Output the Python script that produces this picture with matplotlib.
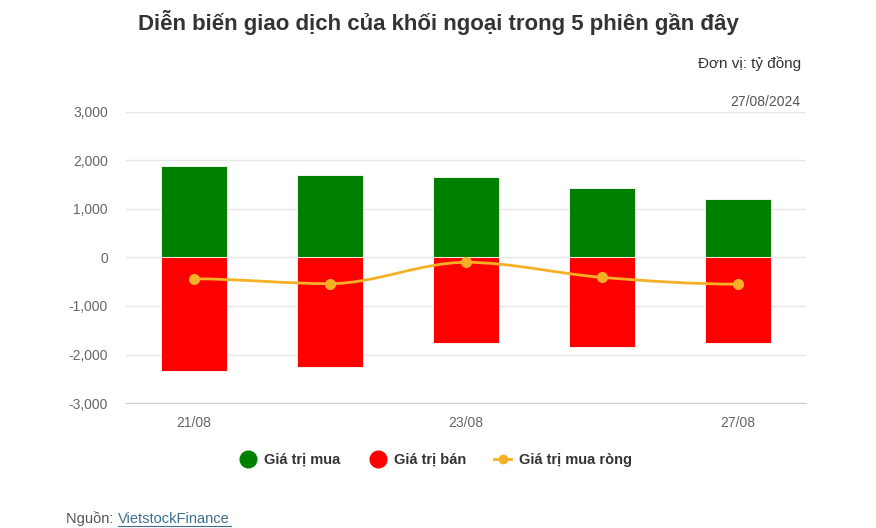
import matplotlib.pyplot as plt
import numpy as np
from matplotlib.path import Path
from matplotlib.patches import PathPatch
from matplotlib.lines import Line2D

plt.rcParams['font.family'] = ['Liberation Sans', 'DejaVu Sans']

# data (tỷ đồng)
dates = ['21/08', '22/08', '23/08', '26/08', '27/08']
buy = [1890, 1710, 1660, 1425, 1200]
sell = [-2330, -2255, -1765, -1840, -1770]
net = [-440, -540, -100, -410, -550]
yticks = [-3000, -2000, -1000, 0, 1000, 2000, 3000]
labels = ['Giá trị mua', 'Giá trị bán', 'Giá trị mua ròng']

green = '#008000'
red = '#ff0000'
gold = '#f6b026'

fig = plt.figure(figsize=(8.76, 5.28), dpi=100)
ax = fig.add_axes([0.1438, 0.2367, 0.7762, 0.5513])

x = np.arange(len(dates))
ax.bar(x, buy, width=0.48, color=green, edgecolor='white', linewidth=0.6, zorder=2)
ax.bar(x, sell, width=0.48, color=red, edgecolor='white', linewidth=0.6, zorder=2)

# smooth spline through net points (bezier segments)
verts = [(x[0], net[0])]
codes = [Path.MOVETO]
for i in range(len(x) - 1):
    x0, y0 = x[i], net[i]
    x1, y1 = x[i + 1], net[i + 1]
    s0 = 0
    if i > 0 and (y0 - net[i - 1]) * (y1 - y0) > 0:
        s0 = (y1 - net[i - 1]) / 2
    s1 = 0
    if i + 2 < len(x) and (y1 - y0) * (net[i + 2] - y1) > 0:
        s1 = (net[i + 2] - y0) / 2
    verts += [(x0 + 1 / 3, y0 + s0 / 3), (x1 - 1 / 3, y1 - s1 / 3), (x1, y1)]
    codes += [Path.CURVE4] * 3
ax.add_patch(PathPatch(Path(verts, codes), facecolor='none', edgecolor=gold, lw=2, zorder=3))
ax.plot(x, net, 'o', color=gold, ms=7, zorder=4)

ax.set_xlim(-0.5, 4.5)
ax.set_ylim(-3000, 3000)
ax.set_yticks(yticks)
ax.set_yticklabels(['{:,}'.format(v) for v in yticks])
ax.set_xticks(x[::2])
ax.set_xticklabels(dates[::2])
ax.tick_params(axis='both', length=0, colors='#666666', labelsize=10)
ax.tick_params(axis='x', pad=9)
ax.tick_params(axis='y', pad=13)
ax.grid(axis='y', color='#e6e6e6', lw=1, zorder=0)
for s in ['top', 'right', 'left']:
    ax.spines[s].set_visible(False)
ax.spines['bottom'].set_color('#cccccc')

fig.text(0.5, 0.958, 'Diễn biến giao dịch của khối ngoại trong 5 phiên gần đây',
         ha='center', va='center', fontsize=16, fontweight='bold', color='#333333')
fig.text(0.914, 0.879, 'Đơn vị: tỷ đồng', ha='right', va='center', fontsize=11, color='#333333')
fig.text(0.914, 0.807, '27/08/2024', ha='right', va='center', fontsize=10, color='#555555')

# legend: one entry per legend so the texts sit on one line
handles = [
    Line2D([], [], ls='none', marker='o', ms=12, color=green),
    Line2D([], [], ls='none', marker='o', ms=12, color=red),
    Line2D([], [], color=gold, lw=2, marker='o', ms=6),
]
for h, lab, lx in zip(handles, labels, [0.2728, 0.4212, 0.5639]):
    leg = fig.legend([h], [lab], loc='center left', bbox_to_anchor=(lx, 0.1288),
                     frameon=False, borderpad=0, borderaxespad=0,
                     handlelength=1.2, handletextpad=0.55,
                     prop={'weight': 'bold', 'size': 10.5})
    leg.get_texts()[0].set_color('#333333')

fig.text(0.075, 0.017, 'Nguồn: ', ha='left', va='center', fontsize=10.5, color='#555555')
fig.text(0.135, 0.017, 'VietstockFinance', ha='left', va='center', fontsize=10.5,
         color='#3c6e8f')
fig.add_artist(Line2D([0.135, 0.264], [0.004, 0.004], color='#3c6e8f', lw=0.8))

fig.savefig('out.png', dpi=100)
